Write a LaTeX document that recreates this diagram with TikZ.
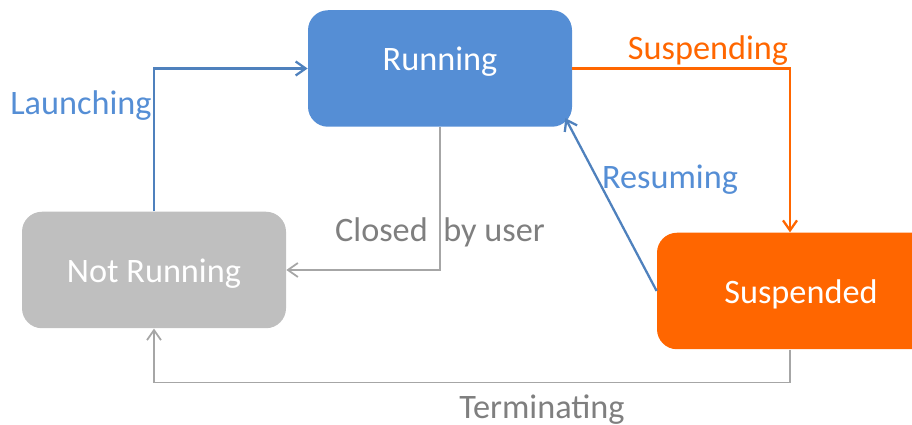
\documentclass[tikz,border=0pt]{standalone}
\usepackage{fontspec}
\setmainfont{Carlito}
\usepackage{xcolor}
\usepackage{tikz}
\usetikzlibrary{calc}
\usetikzlibrary{arrows.meta}
\usetikzlibrary{positioning}

\definecolor{runblue}{HTML}{558ED5}
\definecolor{lineblue}{HTML}{4F81BD}
\definecolor{susporange}{HTML}{FF6600}
\definecolor{notgray}{HTML}{BFBFBF}
\definecolor{linegray}{HTML}{A6A6A6}
\definecolor{textgray}{HTML}{7F7F7F}

\begin{document}
\begin{tikzpicture}[
  font=\fontsize{19.5}{23}\selectfont,
  state/.style={rectangle, rounded corners=0.4cm, minimum width=5.28cm, minimum height=2.33cm, text=white, inner sep=0pt, text height=0.6cm},
  lbl/.style={inner sep=1pt},
  barb/.style={-{Straight Barb[length=2mm, width=2.8mm]}, line width=1.3pt},
  grayline/.style={barb, draw=linegray, line width=1pt}
 ]
 \useasboundingbox (0,0) rectangle (18.24,8.5);
 \node [state, fill=runblue, text depth=0.5cm] (R) at (8.8, 7.13) {Running};
 \node [state, fill=notgray] (NR) at (3.08, 3.1) {Not Running};
 \node [state, fill=susporange, minimum width=5.76cm] (S) at (16.02, 2.68) {Suspended};

 \node [lbl, text=runblue] (lLaunch) at (1.62, 6.38) {Launching};
 \node [lbl, text=susporange] (lSusp) at (14.16, 7.48) {Suspending};
 \node [lbl, text=runblue] (lResume) at (13.4, 4.9) {Resuming};
 \node [lbl, text=textgray] (lClosed) at (8.8, 3.86) {Closed~ by user};
 \node [lbl, text=textgray] (lTerm) at (10.84, 0.3) {Terminating};

 \draw [barb, draw=lineblue] (NR.north) |- (R.west);
 \draw [barb, draw=susporange] (R.east) -| ([xshift=-0.22cm]S.north);
 \draw [barb, draw=lineblue] (S.west) -- ([shift={(-0.14,0.18)}]R.south east);
 \draw [grayline] (R.south) |- (NR.east);
 \draw [grayline] ([xshift=-0.22cm]S.south) -- ++(0,-0.66) -| (NR.south);
\end{tikzpicture}
\end{document}
